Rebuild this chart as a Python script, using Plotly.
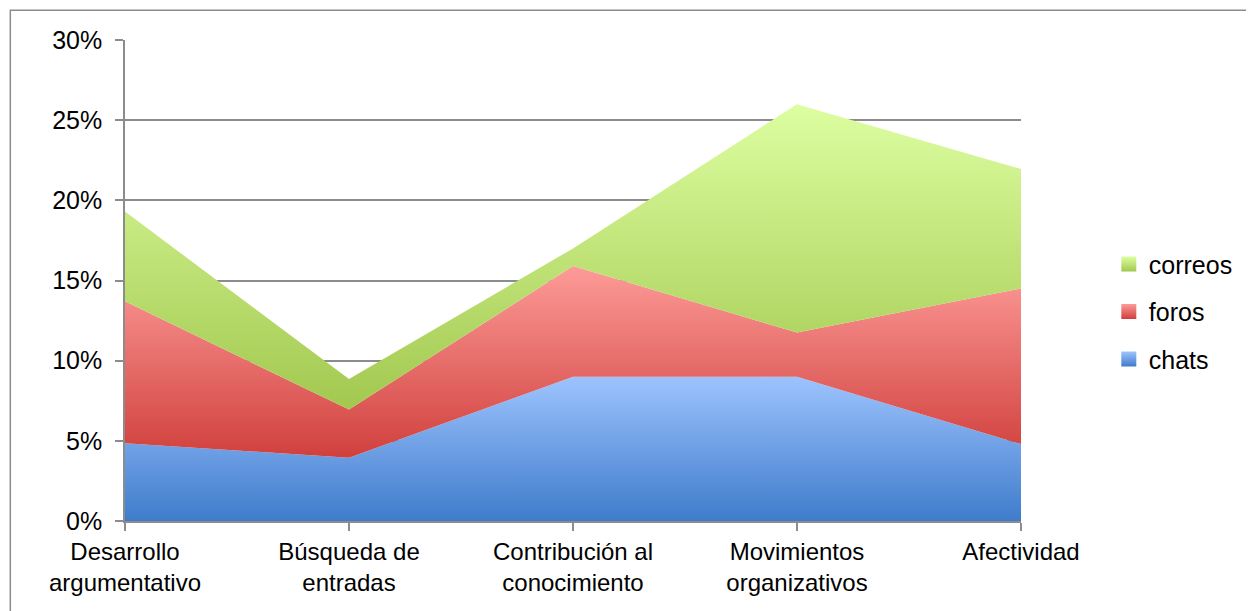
import numpy as np
import plotly.graph_objects as go

categorias = ['Desarrollo<br>argumentativo', 'Búsqueda de<br>entradas', 'Contribución al<br>conocimiento',
              'Movimientos<br>organizativos', 'Afectividad']
chats = [4.85, 3.95, 9.0, 9.0, 4.8]
foros = [8.85, 3.0, 6.9, 2.75, 9.7]
correos = [5.6, 1.9, 1.1, 14.25, 7.45]

series = [
    ('chats', chats, '#3e7ccb', '#9dc3fe'),
    ('foros', foros, '#d0403d', '#fd9b98'),
    ('correos', correos, '#a2c84f', '#ddfea1'),
]

fig = go.Figure()
base = np.zeros(len(categorias))
for i, (name, vals, dark, light) in enumerate(series):
    top = base + np.array(vals)
    fig.add_trace(go.Scatter(
        x=categorias, y=vals, name=name, stackgroup='one', mode='none', showlegend=False,
        fillgradient=dict(type='vertical', start=float(base.min()), stop=float(top.max()),
                          colorscale=[[0, dark], [1, light]]),
        hoverinfo='skip'))
    base = top

# legend-only square swatches
for i, (name, vals, dark, light) in enumerate(series):
    fig.add_trace(go.Scatter(
        x=[None], y=[None], name=name, mode='markers', legendrank=len(series) - i,
        legendgroup=name,
        marker=dict(symbol='square', size=15, color=light, line=dict(width=0),
                    gradient=dict(type='vertical', color=dark))))

# the page body adds an 8px offset, so margins are set 8px smaller on the left/top
fig.update_layout(
    width=1254, height=611,
    margin=dict(l=117, r=241, t=32, b=98),
    paper_bgcolor='white', plot_bgcolor='white',
    font=dict(family='Liberation Sans, Arial, sans-serif', size=24, color='black'),
    showlegend=True,
    legend=dict(x=1.098, y=0.435, yanchor='middle', xanchor='left',
                font=dict(size=25), tracegroupgap=12, itemwidth=30),
    shapes=[dict(type='rect', xref='paper', yref='paper', x0=-0.128, x1=1.3, y0=-0.25, y1=1.062,
                 line=dict(color='#8c8c8c', width=1.5))],
)
fig.update_xaxes(range=[0, len(categorias) - 1], showgrid=False, showline=True, linecolor='#8c8c8c',
                 linewidth=1.5, ticks='outside', ticklen=8, tickcolor='#8c8c8c', tickwidth=1.5,
                 tickfont=dict(size=24), fixedrange=True)
fig.update_yaxes(range=[0, 30], dtick=5, ticksuffix='%', showgrid=True, gridcolor='#8c8c8c', gridwidth=1.5,
                 showline=True, linecolor='#8c8c8c', linewidth=1.5, ticks='outside', ticklen=8,
                 tickcolor='#8c8c8c', tickwidth=1.5, tickfont=dict(size=25), zeroline=False,
                 ticklabelstandoff=8)

fig.write_html("out.html")
